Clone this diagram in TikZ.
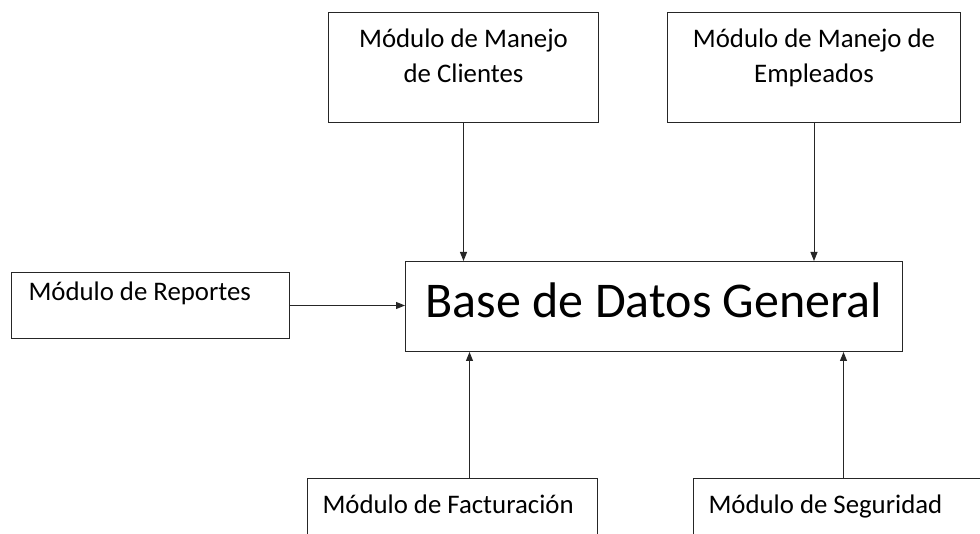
\documentclass[tikz,border=0pt]{standalone}
\usepackage{fontspec}
\setmainfont{Carlito}
\usetikzlibrary{arrows.meta}

\begin{document}
\begin{tikzpicture}[x=1pt,y=-1pt,
    modbox/.style={draw=black!85,line width=1pt,rectangle,anchor=north west,
      inner ysep=0pt,font=\fontsize{26.8}{35}\selectfont},
    flecha/.style={draw=black!85,line width=0.9pt,-{Triangle[length=9pt,width=7pt]}}]
  \useasboundingbox (0,0) rectangle (980,534);
  \clip (0,0) rectangle (980,534);
  % Central database
  \node[modbox,font=\fontsize{50}{58}\selectfont,minimum width=497,
    text height=56,text depth=34] (base) at (405,261) {Base de Datos General};
  % Modules
  % -- top row
  \node[modbox,minimum width=270,align=center,text height=70,text depth=40]
    (clientes) at (328,12) {Módulo de Manejo\\de Clientes};
  \node[modbox,minimum width=293,align=center,text height=70,text depth=40]
    (empleados) at (667,12) {Módulo de Manejo de\\Empleados};
  % -- left
  \node[modbox,text width=244,align=flush left,inner xsep=17,text height=28,text depth=38]
    (reportes) at (11,272) {Módulo de Reportes};
  % -- bottom row
  \node[modbox,text width=260,align=flush left,inner xsep=15,text height=35,text depth=45]
    (facturacion) at (307,478) {Módulo de Facturación};
  \node[modbox,text width=270,align=flush left,inner xsep=15,text height=35,text depth=45]
    (seguridad) at (693,478) {Módulo de Seguridad};
  % Arrows
  \coordinate (fact-top) at ([xshift=17pt]facturacion.north);
  \draw[flecha] (clientes.south) -- (clientes.south |- base.north);
  \draw[flecha] (empleados.south) -- (empleados.south |- base.north);
  \draw[flecha] (reportes.east) -- (reportes.east -| base.west);
  \draw[flecha] (fact-top) -- (fact-top |- base.south);
  \draw[flecha] (seguridad.north) -- (seguridad.north |- base.south);
\end{tikzpicture}
\end{document}
